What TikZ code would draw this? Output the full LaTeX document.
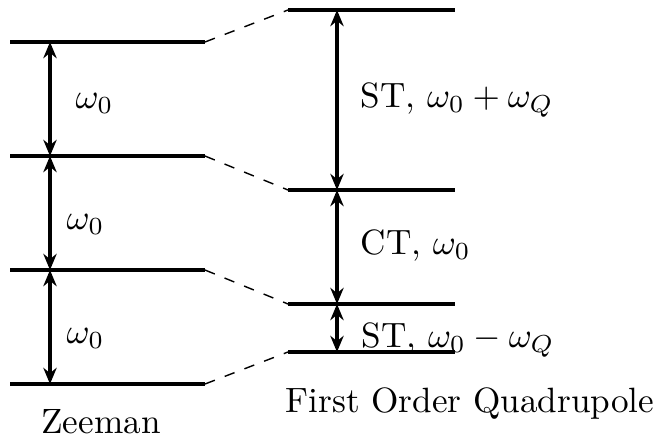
\documentclass[tikz,border=0pt]{standalone}
\usetikzlibrary{arrows.meta, positioning}
\tikzset{
  level/.style={line width=0.9pt},
  gaparr/.style={{Stealth[length=4.6pt,width=3.8pt]}-{Stealth[length=4.6pt,width=3.8pt]}, line width=0.9pt},
  link/.style={dashed, line width=0.4pt},
  lbl/.style={anchor=base west, inner sep=0pt},
  title/.style={anchor=base, inner sep=0pt},
}
\begin{document}
\begin{tikzpicture}[x=0.01cm, y=-0.01cm]
  \useasboundingbox (0,0) rectangle (654,436);
  % Zeeman levels (left) and quadrupole-shifted levels (right)
  \foreach \n/\y in {z1/42,z2/156,z3/270,z4/384} {
    \coordinate (\n L) at (10,\y);
    \coordinate (\n R) at (205,\y);
    \coordinate (\n A) at (50,\y);
  }
  \foreach \n/\y in {q1/10,q2/190,q3/304,q4/352} {
    \coordinate (\n L) at (288,\y);
    \coordinate (\n R) at (455,\y);
    \coordinate (\n A) at (337,\y);
  }
  \foreach \n in {z1,z2,z3,z4,q1,q2,q3,q4}
    \draw[level] (\n L) -- (\n R);
  \foreach \a/\b in {z1/q1,z2/q2,z3/q3,z4/q4}
    \draw[link] (\a R) -- (\b L);
  \foreach \a/\b in {z1/z2,z2/z3,z3/z4,q1/q2,q2/q3,q3/q4}
    \draw[gaparr] (\a A) -- (\b A);
  % labels
  \node[lbl] (w1) at (75,108) {$\omega_0$};
  \node[lbl] (w2) at (66,229) {$\omega_0$};
  \node[lbl] (w3) at (66,343) {$\omega_0$};
  \node[lbl] (st1) at (360,107) {ST, $\omega_0+\omega_Q$};
  \node[lbl] (ct) at (360,254) {CT, $\omega_0$};
  \node[lbl] (st2) at (361,347) {ST, $\omega_0-\omega_Q$};
  \node[title] (zee) at (101,433) {Zeeman};
  \node[title] (foq) at (470,412) {First Order Quadrupole};
\end{tikzpicture}
\end{document}
